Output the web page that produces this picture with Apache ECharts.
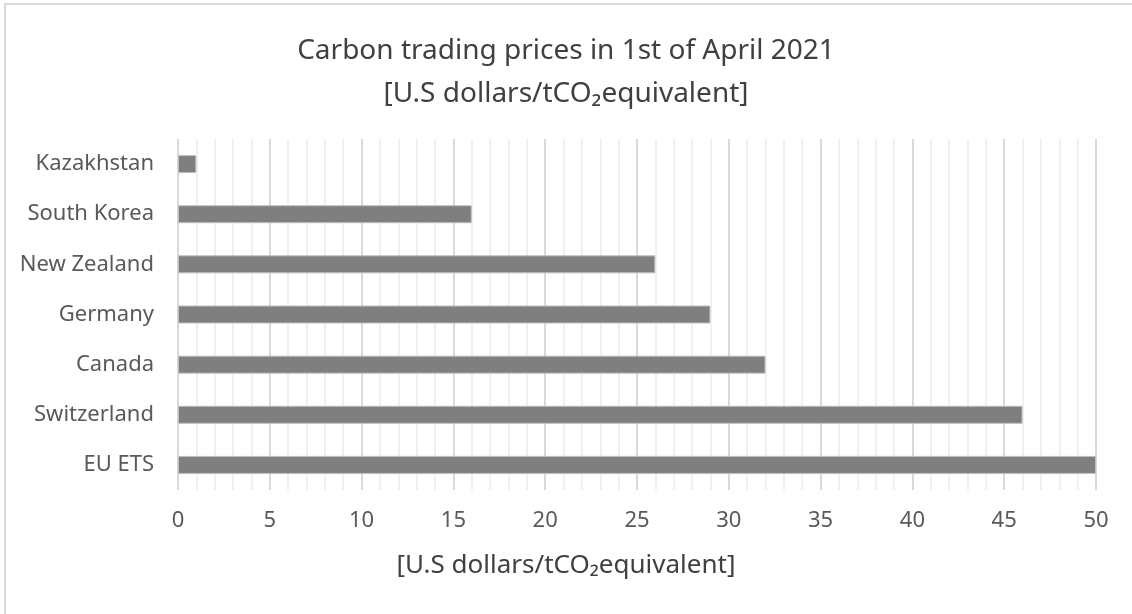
<!DOCTYPE html>
<html>
<head>
<meta charset="utf-8">
<script src="https://cdn.jsdelivr.net/npm/echarts@6/dist/echarts.min.js"></script>
<style>
  html, body { margin: 0; padding: 0; background: #fff; }
  #chart { width: 1132px; height: 614px; }
</style>
</head>
<body>
<div id="chart"></div>
<script>
// Carbon trading prices, 1 April 2021 (US$ per tonne CO2 equivalent)
const categories = ['EU ETS', 'Switzerland', 'Canada', 'Germany', 'New Zealand', 'South Korea', 'Kazakhstan'];
const prices = [50, 46, 32, 29, 26, 16, 1];
const titleLines = ['Carbon trading prices in 1st of April 2021', '[U.S dollars/tCO\u2082equivalent]'];
const axisTitle = '[U.S dollars/tCO\u2082equivalent]';

const FONT = '"Noto Sans", "Open Sans", sans-serif';
const chart = echarts.init(document.getElementById('chart'), null, { renderer: 'canvas' });

chart.setOption({
  backgroundColor: '#ffffff',
  animation: false,
  graphic: [{
    type: 'rect',
    shape: { x: 5, y: 4, width: 1200, height: 700 },
    style: { fill: 'none', stroke: '#d9d9d9', lineWidth: 2 },
    silent: true
  }],
  title: [{
    text: titleLines.join('\n'),
    left: 'center',
    top: 25,
    textStyle: { fontFamily: FONT, fontSize: 28, fontWeight: 'normal', color: '#404040', lineHeight: 43 }
  }, {
    // value-axis caption, centred on the chart area as a whole
    text: axisTitle,
    left: 'center',
    top: 545,
    textStyle: { fontFamily: FONT, fontSize: 26, fontWeight: 'normal', color: '#404040', lineHeight: 32 }
  }],
  grid: { left: 178, right: 36, top: 139, bottom: 124, containLabel: false },
  xAxis: {
    type: 'value',
    min: 0,
    max: 50,
    interval: 5,
    axisLine: { show: false },
    axisTick: { show: false },
    axisLabel: { fontFamily: FONT, fontSize: 22, color: '#595959', margin: 20 },
    splitLine: { show: true, lineStyle: { color: '#d9d9d9', width: 2 } },
    minorTick: { show: false, splitNumber: 5 },
    minorSplitLine: { show: true, lineStyle: { color: '#f0f0f0', width: 2 } }
  },
  yAxis: {
    type: 'category',
    data: categories,
    axisLine: { show: false },
    axisTick: { show: false },
    axisLabel: { fontFamily: FONT, fontSize: 22, color: '#595959', margin: 24 },
    splitLine: { show: false }
  },
  series: [{
    type: 'bar',
    data: prices,
    barWidth: 18,
    itemStyle: { color: '#7f7f7f', borderColor: '#bfbfbf', borderWidth: 1 }
  }]
});
</script>
</body>
</html>
